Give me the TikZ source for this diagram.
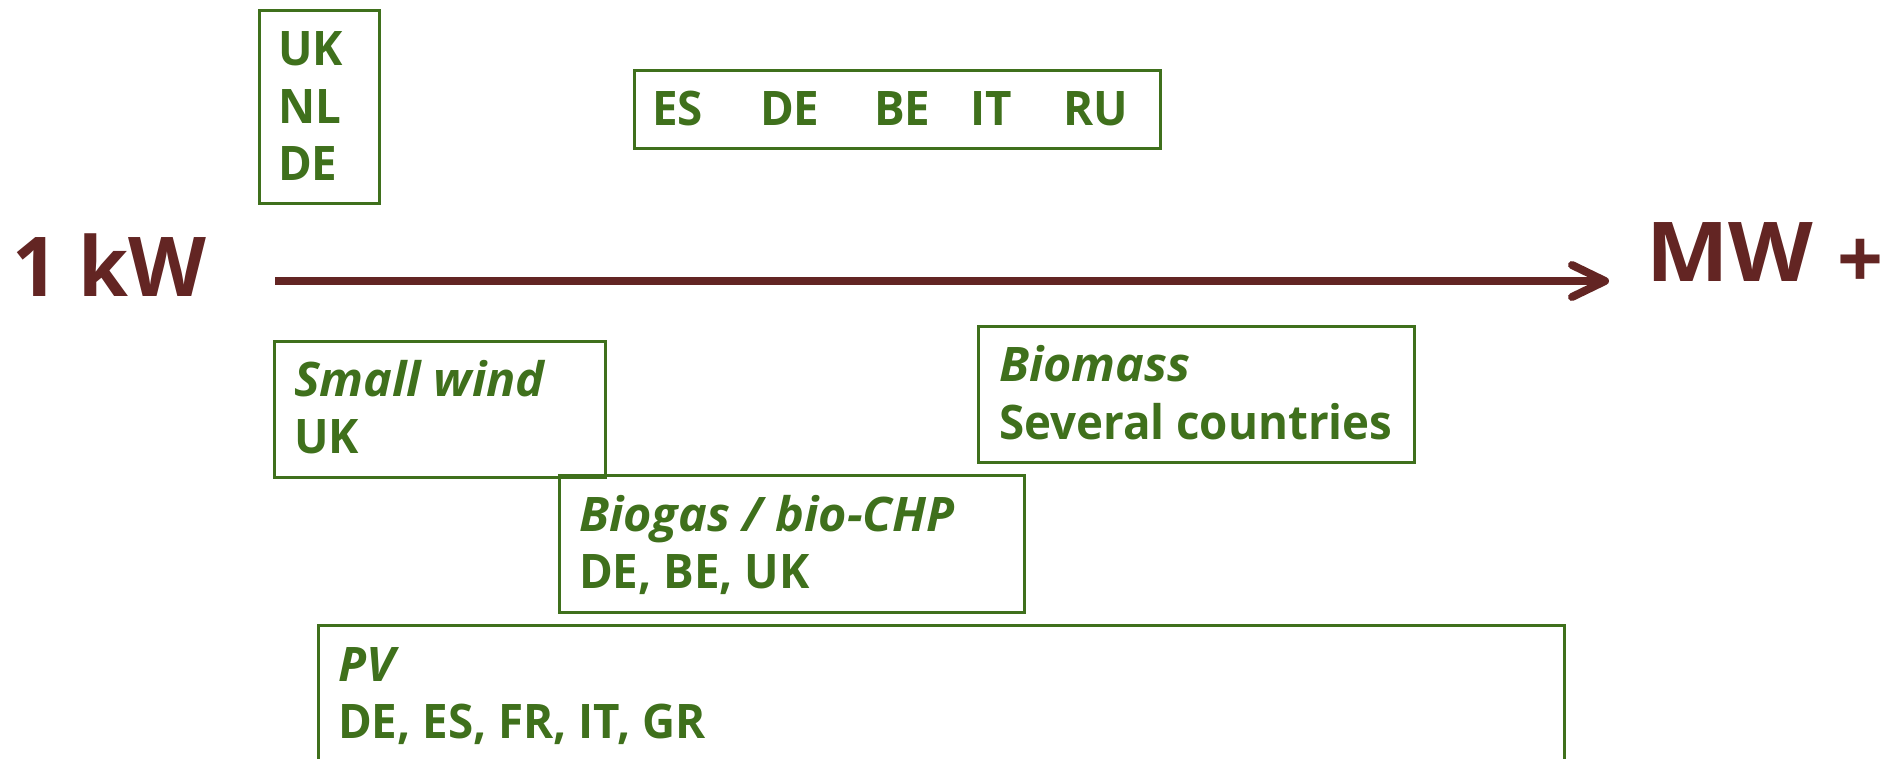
\documentclass[tikz,border=0pt]{standalone}
\usepackage{fontspec}
\setmainfont{Open Sans}
\newfontfamily\labelfont[FakeStretch=0.96]{Open Sans}
\newfontfamily\italfont[FakeStretch=1.02]{Open Sans}
\newfontfamily\bigfont[FakeStretch=0.975]{Open Sans}
\newfontfamily\mwfont[FakeStretch=1.06]{Open Sans}
\usetikzlibrary{arrows.meta}
\definecolor{leafgreen}{RGB}{63,112,28}
\definecolor{darkbrown}{RGB}{99,37,35}
\tikzset{
  box/.style={draw=leafgreen, line width=1.5pt, inner sep=0pt, outer sep=0pt, rectangle},
  lbl/.style={text=leafgreen, font=\labelfont\fontsize{23.8pt}{28pt}\selectfont\bfseries, inner sep=0pt, outer sep=0pt, anchor=base west},
  ilbl/.style={lbl, font=\italfont\fontsize{23.8pt}{28pt}\selectfont\bfseries\itshape},
  big/.style={text=darkbrown, font=\bigfont\fontsize{41.3pt}{48pt}\selectfont\bfseries, inner sep=0pt, outer sep=0pt, anchor=base west},
  axis/.style={draw=darkbrown, line width=4pt, -{Straight Barb[length=16.5pt,width=16pt,round]}}
}
\begin{document}
\begin{tikzpicture}[x=0.5pt,y=-0.5pt]
\clip (0,0) rectangle (1900,759);
% axis
\node[big] (kw) at (12,296) {1 kW};
\node[big] (mw) at (1646,281) {{\mwfont\bfseries MW}\hspace{12pt}\raisebox{-4pt}{+}};
\coordinate (a0) at (275,281);
\coordinate (a1) at (1609,281);
\draw[axis] (a0) -- (a1);
% top-left box
\node[box, minimum width=60pt, minimum height=96.5pt, anchor=north west] (ukbox) at (259,11) {};
\node[lbl] (uk1) at (278,66) {UK};
\node[lbl] (nl1) at (278,124) {NL};
\node[lbl] (de1) at (278,181) {DE};
% countries row
\node[box, minimum width=263pt, minimum height=39pt, anchor=north west] (esbox) at (634,71) {};
\node[lbl] (es2) at (652,126) {ES};
\node[lbl] (de2) at (760,126) {DE};
\node[lbl] (be2) at (874,126) {BE};
\node[lbl] (it2) at (970,126) {IT};
\node[lbl] (ru2) at (1063,126) {RU};
% small wind
\node[box, minimum width=165.5pt, minimum height=68pt, anchor=north west] (windbox) at (274,341) {};
\node[ilbl] (windt) at (294,396) {Small wind};
\node[lbl] (windc) at (294,453) {UK};
% biomass
\node[box, minimum width=218pt, minimum height=68pt, anchor=north west] (biomassbox) at (978,326) {};
\node[ilbl] (biomasst) at (999,381) {Biomass};
\node[lbl] (biomassc) at (999,439) {Several countries};
% biogas
\node[box, minimum width=232.5pt, minimum height=68.5pt, anchor=north west] (biogasbox) at (559,475) {};
\node[ilbl] (biogast) at (579,531) {Biogas / bio-CHP};
\node[lbl] (biogasc) at (579,588) {DE, BE, UK};
% PV
\node[box, minimum width=623pt, minimum height=100pt, anchor=north west] (pvbox) at (318,625) {};
\node[ilbl] (pvt) at (338,681) {PV};
\node[lbl] (pvc) at (338,738) {DE, ES, FR, IT, GR};
\end{tikzpicture}
\end{document}
